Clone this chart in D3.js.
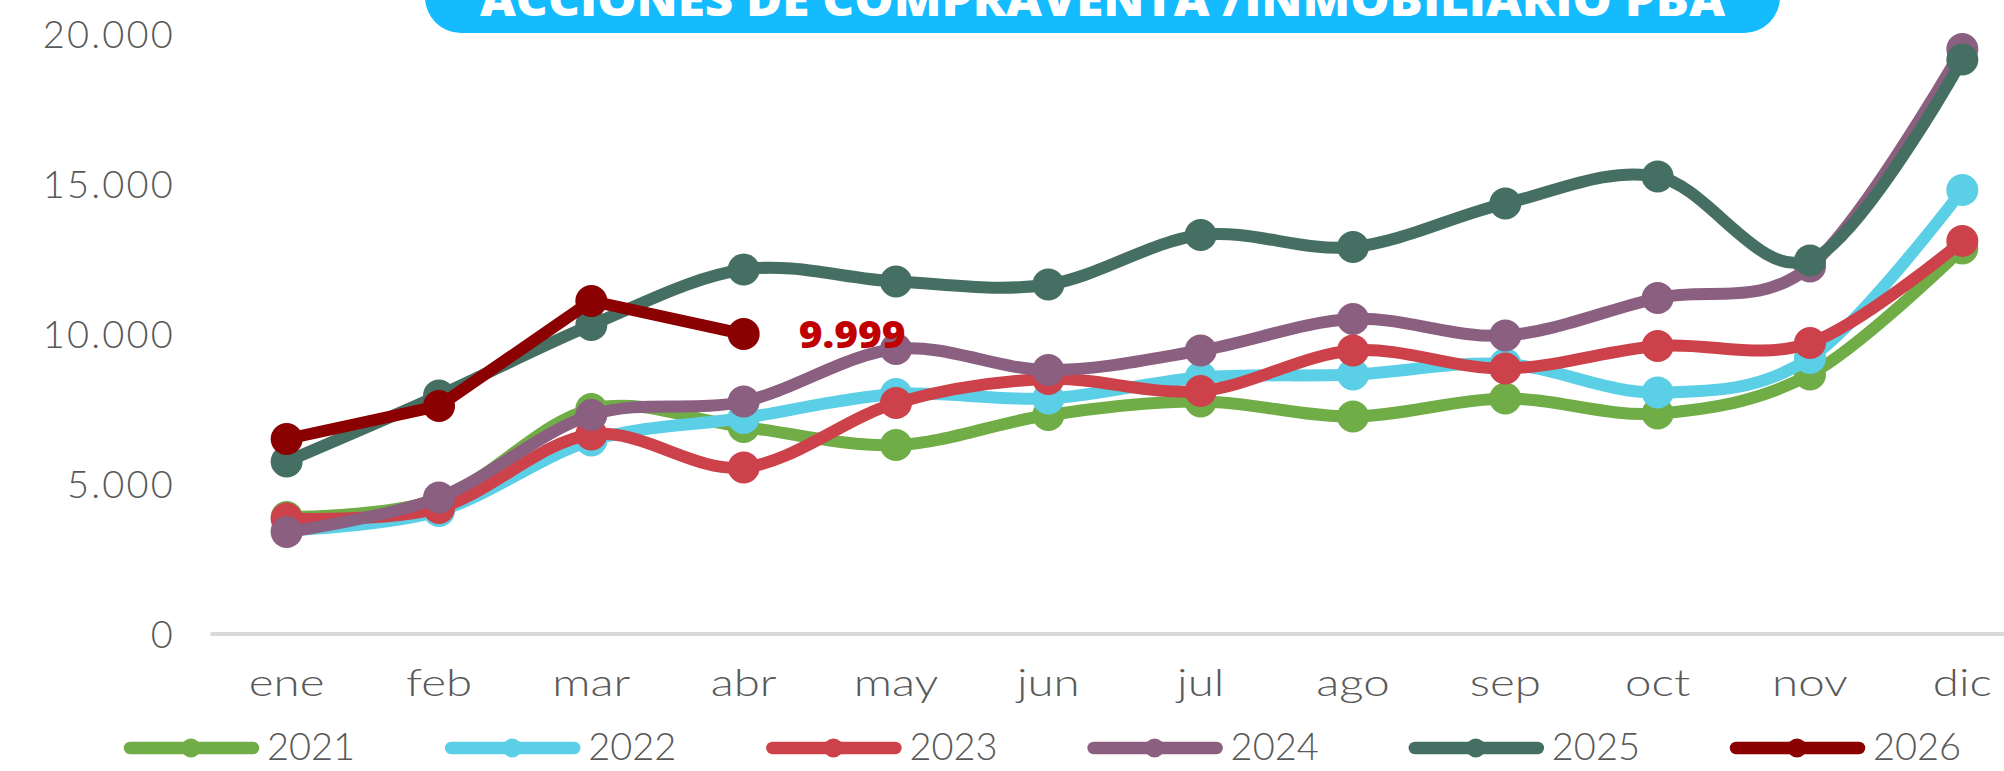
<!DOCTYPE html>
<html>
<head>
<meta charset="utf-8">
<script src="https://cdn.jsdelivr.net/npm/d3@7"></script>
<style>
  html, body { margin: 0; padding: 0; background: #ffffff; overflow: hidden; }
  svg { display: block; }
</style>
</head>
<body>
<svg id="chart" width="2004" height="771"></svg>
<script>
// ---------- data ----------
const months = ["ene", "feb", "mar", "abr", "may", "jun", "jul", "ago", "sep", "oct", "nov", "dic"];
const years = ["2021", "2022", "2023", "2024", "2025", "2026"];
const s2021 = [3900, 4500, 7500, 6900, 6300, 7300, 7750, 7250, 7850, 7350, 8650, 12850];
const s2022 = [3450, 4100, 6450, 7200, 8000, 7850, 8550, 8650, 9000, 8050, 9200, 14800];
const s2023 = [3850, 4200, 6650, 5550, 7700, 8500, 8100, 9450, 8850, 9600, 9700, 13100];
const s2024 = [3400, 4550, 7300, 7750, 9500, 8800, 9450, 10500, 9950, 11200, 12250, 19500];
const s2025 = [5750, 7950, 10300, 12150, 11750, 11650, 13300, 12900, 14350, 15250, 12450, 19150];
const s2026 = [6500, 7600, 11100, 9999];
const yTicks = [0, 5000, 10000, 15000, 20000];
const titleText = "ACCIONES DE COMPRAVENTA /INMOBILIARIO PBA";
const lastLabel = "9.999";

// ---------- styling ----------
const colors = ["#70AD47", "#5BCFE6", "#CC414A", "#8A5F80", "#466F63", "#8B0000"];
const seriesValues = [s2021, s2022, s2023, s2024, s2025, s2026];
const smooth = [true, true, true, true, true, false];
const axisFont = "Lato, 'Open Sans', sans-serif";
const textGray = "#595959";

const svg = d3.select("#chart");

// scales
const x = d3.scaleBand().domain(months).range([210.5, 2038.5]).paddingInner(0).paddingOuter(0);
const cx = m => x(m) + x.bandwidth() / 2;
const y = d3.scaleLinear().domain([0, 20000]).range([634, 34]);

// title banner (partly above the top edge, as in the original)
svg.append("rect")
  .attr("x", 425).attr("y", -60)
  .attr("width", 1355).attr("height", 93)
  .attr("rx", 36).attr("ry", 36)
  .attr("fill", "#14BBFF");
svg.append("text")
  .attr("x", 480).attr("y", 16)
  .attr("textLength", 1245).attr("lengthAdjust", "spacingAndGlyphs")
  .attr("font-family", "'Open Sans', 'DejaVu Sans', sans-serif")
  .attr("font-weight", 800)
  .attr("font-size", 46)
  .attr("fill", "#ffffff")
  .text(titleText);

// y axis labels
const yAxis = d3.axisLeft(y).tickValues(yTicks)
  .tickFormat(d => d3.format(",")(d).replace(/,/g, "."))
  .tickSize(0).tickPadding(0);
const yg = svg.append("g").attr("transform", "translate(175,0)").call(yAxis);
yg.select(".domain").remove();
yg.selectAll("text")
  .attr("font-family", axisFont).attr("font-weight", 300)
  .attr("font-size", 38).attr("fill", textGray).attr("dy", "0.35em")
  .attr("letter-spacing", 2.2);

// baseline (category axis line)
const xAxis = d3.axisBottom(x).tickSize(0).tickPadding(0);
const xg = svg.append("g").attr("transform", "translate(0,634)").call(xAxis);
xg.select(".domain").attr("stroke", "#D9D9D9").attr("stroke-width", 4)
  .attr("d", "M210.5,0H2040");
xg.selectAll(".tick text")
  .attr("font-family", axisFont).attr("font-weight", 300)
  .attr("font-size", 38).attr("fill", textGray)
  .attr("y", 0).attr("dy", 0)
  .attr("transform", "translate(0,62) scale(1.25,1)");

// series
const lineSmooth = d3.line().x(d => cx(d.m)).y(d => y(d.v)).curve(d3.curveCardinal.tension(0));
const lineStraight = d3.line().x(d => cx(d.m)).y(d => y(d.v)).curve(d3.curveLinear);

seriesValues.forEach((vals, i) => {
  const pts = vals.map((v, j) => ({ m: months[j], v }));
  const g = svg.append("g");
  g.append("path")
    .attr("d", (smooth[i] ? lineSmooth : lineStraight)(pts))
    .attr("fill", "none")
    .attr("stroke", colors[i])
    .attr("stroke-width", 12)
    .attr("stroke-linejoin", "round")
    .attr("stroke-linecap", "round");
  g.selectAll("circle").data(pts).join("circle")
    .attr("cx", d => cx(d.m)).attr("cy", d => y(d.v))
    .attr("r", 16).attr("fill", colors[i]);
});

// data label for last 2026 point
const lastIdx = s2026.length - 1;
svg.append("text")
  .attr("x", cx(months[lastIdx]) + 55)
  .attr("y", y(s2026[lastIdx]) + 14)
  .attr("textLength", 107).attr("lengthAdjust", "spacingAndGlyphs")
  .attr("font-family", "'Open Sans', sans-serif")
  .attr("font-weight", 800)
  .attr("font-size", 37)
  .attr("fill", "#C00000")
  .text(lastLabel);

// legend
const legendStart = 124, legendStep = 321.2, legendY = 748;
years.forEach((yr, i) => {
  const lx = legendStart + i * legendStep;
  const g = svg.append("g");
  g.append("line")
    .attr("x1", lx + 6).attr("x2", lx + 129)
    .attr("y1", legendY).attr("y2", legendY)
    .attr("stroke", colors[i]).attr("stroke-width", 12.5)
    .attr("stroke-linecap", "round");
  g.append("circle").attr("cx", lx + 67).attr("cy", legendY).attr("r", 9.5).attr("fill", colors[i]);
  g.append("text")
    .attr("x", lx + 143).attr("y", legendY + 12)
    .attr("font-family", axisFont).attr("font-weight", 300)
    .attr("font-size", 38).attr("fill", textGray)
    .text(yr);
});
</script>
</body>
</html>
